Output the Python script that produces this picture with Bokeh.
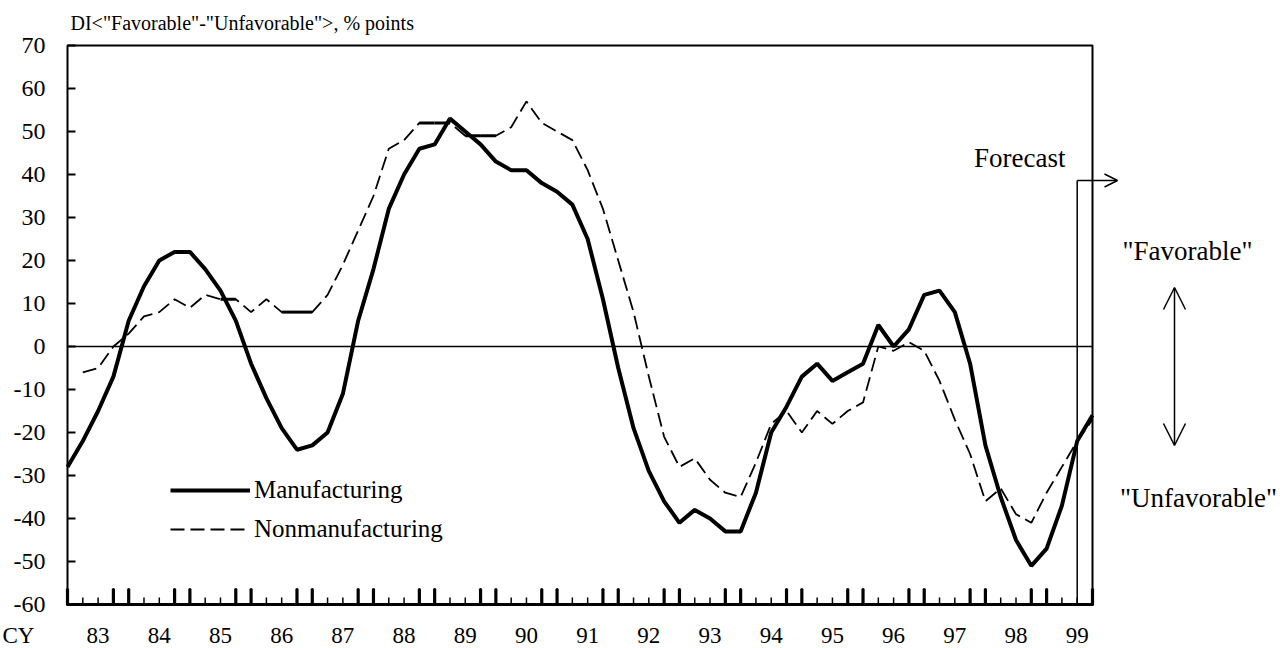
from bokeh.plotting import figure
from bokeh.models import Range1d, Legend, LegendItem, Arrow, OpenHead
from bokeh.core.properties import value
from bokeh.embed import file_html
from bokeh.resources import INLINE

# ---------------- data (quarterly, 1983Q1 .. 1999Q4; last point = forecast) -------------
quarter_index = list(range(68))
manufacturing = [-28, -22, -15, -7, 6, 14, 20, 22, 22, 18, 13, 6, -4, -12, -19, -24,
                 -23, -20, -11, 6, 18, 32, 40, 46, 47, 53, 50, 47, 43, 41, 41, 38,
                 36, 33, 25, 11, -5, -19, -29, -36, -41, -38, -40, -43, -43, -34, -20, -14,
                 -7, -4, -8, -6, -4, 5, 0, 4, 12, 13, 8, -4, -23, -35, -45, -51,
                 -47, -37, -22, -16]
nonmanufacturing = [float("nan"), -6, -5, 0, 3, 7, 8, 11, 9, 12, 11, 11, 8, 11, 8, 8,
                    8, 12, 19, 27, 35, 46, 48, 52, 52, 52, 49, 49, 49, 51, 57, 52,
                    50, 48, 41, 32, 20, 8, -7, -21, -28, -26, -31, -34, -35, -27, -18, -15,
                    -20, -15, -18, -15, -13, 0, -1, 1, -1, -8, -17, -25, -36, -33, -39, -41,
                    -34, -28, -22, -17]
year_labels = ["83", "84", "85", "86", "87", "88", "89", "90", "91", "92", "93",
               "94", "95", "96", "97", "98", "99"]
y_ticks = list(range(-60, 71, 10))
y_tick_labels = [str(v) for v in y_ticks]
forecast_start = 66

FONT = "Liberation Serif"

# ---------------- geometry: the frame fills the canvas, the chart box is drawn ----------
W, H = 1280, 648
BOX_L, BOX_R, BOX_T, BOX_B = 67, 1092, 45, 604      # chart box inside the canvas (px)
X0, X1, Y0, Y1 = 0, 67, -60, 70                      # chart box in data units
ux = (X1 - X0) / (BOX_R - BOX_L)                     # data units per px
uy = (Y1 - Y0) / (BOX_B - BOX_T)

p = figure(width=W, height=H, min_border=0,
           x_range=Range1d(X0 - BOX_L * ux, X1 + (W - BOX_R) * ux),
           y_range=Range1d(Y0 - (H - BOX_B) * uy, Y1 + BOX_T * uy),
           output_backend="svg", toolbar_location=None)
p.axis.visible = False
p.grid.visible = False
p.outline_line_color = None
p.background_fill_color = "white"
p.border_fill_color = "white"


def txt(x, y, s, size, align="center"):
    p.text(x=[x], y=[y], text=[s], text_align=align, text_baseline="middle",
           text_font=value(FONT), text_font_size=size, text_color="black")


# chart box
p.quad(left=[X0], right=[X1], bottom=[Y0], top=[Y1], fill_color=None,
       line_color="black", line_width=2)
p.segment(x0=[X0], y0=[Y0], x1=[X1], y1=[Y0], line_color="black", line_width=3)

# y axis ticks + labels
p.segment(x0=[X0] * len(y_ticks), y0=y_ticks, x1=[X0 + 8 * ux] * len(y_ticks), y1=y_ticks,
          line_color="black", line_width=2)
p.text(x=[X0 - 22 * ux] * len(y_ticks), y=y_ticks, text=y_tick_labels,
       text_align="right", text_baseline="middle", text_font=value(FONT),
       text_font_size="24px", text_color="black")

# x axis ticks (quarters) + year labels
big = [i for i in quarter_index if i % 4 in (0, 3)]
small = [i for i in quarter_index if i % 4 in (1, 2)]
p.segment(x0=small, y0=[Y0] * len(small), x1=small, y1=[Y0 + 7 * uy] * len(small),
          line_color="black", line_width=1.5)
p.segment(x0=big, y0=[Y0] * len(big), x1=big, y1=[Y0 + 15 * uy] * len(big),
          line_color="black", line_width=3.2, line_cap="round")
lab_pos = [4 * k + 2 for k in range(len(year_labels))]
label_y = Y0 - 31 * uy
p.text(x=lab_pos, y=[label_y] * len(lab_pos), text=year_labels, text_align="center",
       text_baseline="middle", text_font=value(FONT), text_font_size="23px",
       text_color="black")
txt(X0 - 65 * ux, label_y, "CY", "23px", align="left")

# zero line
p.segment(x0=[X0], y0=[0], x1=[X1], y1=[0], line_color="black", line_width=1.5)

# series
r_m = p.line(quarter_index, manufacturing, line_color="black", line_width=4)
r_n = p.line(quarter_index, nonmanufacturing, line_color="black", line_width=1.8,
             line_dash="14 6")
# flat stretches of the dashed series print as continuous strokes in the original
flat = [i for i in range(1, len(nonmanufacturing) - 1)
        if nonmanufacturing[i] == nonmanufacturing[i + 1]]
p.segment(x0=flat, y0=[nonmanufacturing[i] for i in flat],
          x1=[i + 1 for i in flat], y1=[nonmanufacturing[i + 1] for i in flat],
          line_color="black", line_width=3)

legend = Legend(items=[LegendItem(label="Manufacturing", renderers=[r_m]),
                       LegendItem(label="Nonmanufacturing", renderers=[r_n])],
                location=(170, H - 544), glyph_width=80, glyph_height=30,
                label_height=30, spacing=9, padding=0, margin=0, label_standoff=4,
                label_text_font=FONT, label_text_font_size="25px",
                label_text_color="black",
                border_line_color=None, background_fill_alpha=0)
p.add_layout(legend)

# forecast marker
fy = Y1 - 135 * uy
p.segment(x0=[forecast_start], y0=[Y0], x1=[forecast_start], y1=[fy],
          line_color="black", line_width=1.5)
p.add_layout(Arrow(end=OpenHead(size=13, line_width=1.5), x_start=forecast_start, y_start=fy,
                   x_end=X1 + 25 * ux, y_end=fy, line_width=1.5))
txt(X1 - 27 * ux, Y1 - 112 * uy, "Forecast", "27px", align="right")

# favorable / unfavorable
ax = X1 + 82 * ux
p.add_layout(Arrow(start=OpenHead(size=22, line_width=1.5), end=OpenHead(size=22, line_width=1.5),
                   x_start=ax, y_start=Y1 - 400 * uy, x_end=ax, y_end=Y1 - 242 * uy,
                   line_width=1.5))
txt(X1 + 95 * ux, Y1 - 205 * uy, '"Favorable"', "27px")
txt(X1 + 106 * ux, Y1 - 452 * uy, '"Unfavorable"', "27px")

# title
txt(X0 + 3 * ux, Y1 + 23 * uy, 'DI<"Favorable"-"Unfavorable">, % points', "20px",
    align="left")

open("out.html", "w").write(file_html(p, INLINE))
